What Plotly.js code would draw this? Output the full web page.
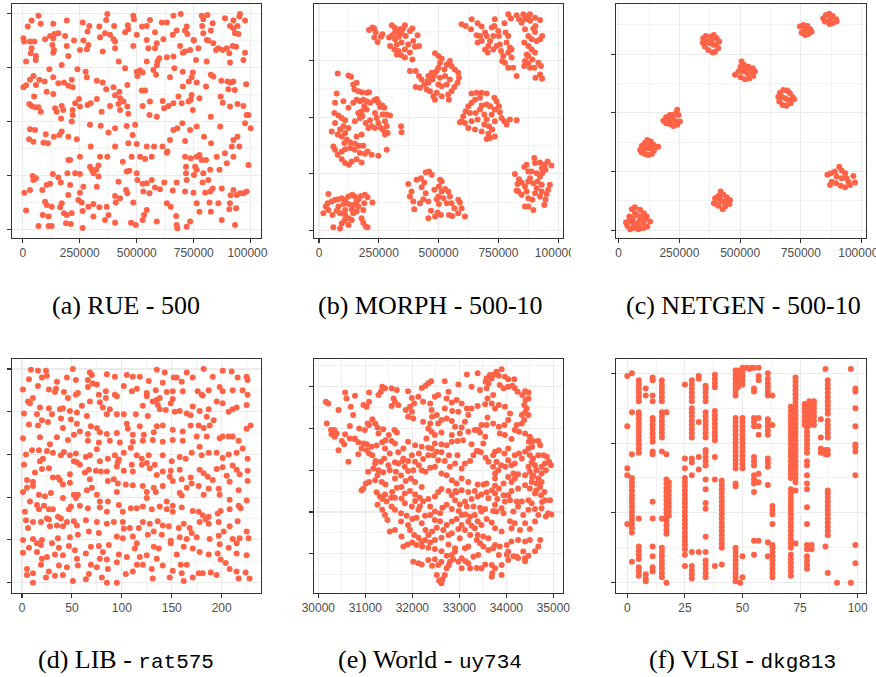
<!DOCTYPE html>
<html>
<head>
<meta charset="utf-8">
<script src="https://cdn.plot.ly/plotly-3.0.1.min.js"></script>
<style>html,body{margin:0;padding:0;background:#fff;}#chart{width:876px;height:677px;}</style>
</head>
<body>
<div id="chart"></div>
<script>
// ---------------- DATA ----------------
// (a) RUE - 500 : x, y in thousands
const rueXY = [[69,991],[39,969],[22,941],[79,954],[134,954],[193,969],[263,960],[292,944],[336,941],[371,1000],[366,972],[401,944],[461,947],[485,991],[488,975],[544,944],[523,941],[558,972],[610,960],[632,960],[661,991],[693,1000],[719,941],[785,991],[810,995],[792,975],[787,944],[833,957],[887,980],[924,969],[942,944],[953,1000],[975,969],[950,988],[909,944],
[3,887],[6,872],[32,872],[51,872],[98,882],[120,898],[139,907],[156,910],[134,887],[186,898],[225,876],[266,876],[284,918],[339,892],[361,910],[383,903],[398,882],[405,872],[449,915],[463,929],[500,903],[544,879],[580,915],[617,882],[658,903],[675,923],[712,923],[722,907],[749,879],[792,910],[825,923],[814,876],[836,864],[924,933],[931,910],[946,907],[858,841],
[39,841],[35,817],[15,779],[57,786],[58,805],[137,833],[130,856],[134,820],[193,851],[200,805],[171,763],[251,833],[288,856],[281,836],[351,825],[405,841],[421,779],[449,748],[485,851],[544,779],[551,841],[588,864],[580,841],[599,794],[591,779],[632,799],[661,802],[690,851],[702,820],[712,825],[734,833],[770,841],[760,786],[807,779],[848,833],[877,833],[906,817],[895,841],[921,851],[936,848],[975,820],[968,786],[909,774],[807,879],[751,876],
[117,743],[47,712],[73,694],[96,686],[134,706],[156,678],[181,681],[215,694],[200,666],[219,659],[240,743],[276,732],[281,706],[325,690],[351,681],[366,650],[398,659],[424,639],[459,670],[500,732],[515,737],[503,712],[526,728],[573,740],[588,762],[585,717],[646,706],[665,748],[702,732],[746,728],[741,706],[728,686],[702,663],[763,681],[825,717],[836,709],[871,690],[898,686],[924,686],[980,673],[804,663],[3,659],[15,669],[32,694],[58,670],[105,639],[134,628],[522,644],[537,644],[405,622],
[50,616],[29,582],[39,573],[54,567],[69,567],[79,546],[142,562],[149,546],[171,573],[178,554],[168,515],[219,554],[230,585],[247,605],[251,570],[284,577],[298,585],[325,605],[346,546],[383,573],[420,582],[427,608],[442,593],[427,554],[463,536],[459,570],[526,573],[558,593],[614,596],[620,562],[588,523],[556,531],[639,573],[661,585],[683,616],[697,585],[727,593],[741,624],[737,601],[746,554],[775,608],[825,523],[877,588],[909,570],[942,582],[968,573],[982,531],[868,616],[902,650],[912,681],[930,647],
[32,464],[54,461],[28,418],[47,407],[101,441],[110,399],[137,430],[161,438],[171,454],[200,430],[215,500],[219,531],[295,485],[342,481],[376,449],[405,469],[456,480],[463,399],[482,438],[493,485],[500,396],[544,384],[576,384],[613,384],[635,361],[646,415],[661,461],[678,469],[700,492],[712,410],[734,461],[763,477],[795,430],[826,399],[866,477],[924,415],[942,430],[975,492],[1000,469],[990,531],[917,384],[237,418],[91,402],
[200,322],[208,322],[251,337],[295,291],[303,276],[332,296],[339,337],[371,337],[405,384],[439,314],[456,268],[478,337],[515,337],[537,327],[566,337],[632,356],[712,337],[716,291],[737,330],[756,291],[763,337],[785,322],[804,322],[822,276],[851,337],[887,353],[895,307],[924,337],[950,384],[990,299],[863,276],[716,260],[763,276],[792,260],[775,345],[298,384],
[44,248],[47,229],[58,237],[132,257],[156,241],[167,217],[196,260],[230,260],[251,257],[266,198],[310,260],[322,276],[332,245],[420,221],[468,272],[500,260],[503,229],[526,211],[544,214],[566,229],[580,194],[621,217],[675,217],[719,229],[751,252],[789,217],[814,229],[833,190],[873,190],[924,183],[982,175],[953,167],[939,159],[7,170],[32,183],[86,183],[105,206],[120,211],[208,206],[200,159],[251,170],[325,198],[405,155],[453,183],[459,167],[529,175],[556,167],[602,186],[658,180],[712,175],[749,170],[800,170],[822,175],[912,158],[968,167],
[15,87],[98,128],[105,113],[127,105],[164,102],[171,121],[181,74],[193,67],[215,74],[244,136],[259,124],[263,85],[288,105],[310,118],[336,102],[310,59],[368,105],[376,67],[361,43],[408,124],[427,144],[485,124],[405,31],[475,31],[496,20],[526,43],[532,67],[544,90],[588,36],[632,121],[649,105],[673,62],[675,20],[678,5],[719,12],[734,36],[763,121],[775,82],[819,124],[825,82],[858,121],[873,43],[906,93],[909,121],[936,98],[931,20],[69,15],[113,15],[127,15],[190,28],[211,25],[263,6],[113,59],[88,67]];

// (b) MORPH - 500-10 : x, y in thousands
const morphXY = [[209,884],[223,894],[231,890],[237,872],[231,850],[245,831],[265,865],[259,854],[304,904],[315,894],[325,879],[306,860],[293,850],[318,843],[334,854],[345,869],[352,890],[359,904],[380,879],[390,890],[362,857],[345,828],[325,820],[297,813],[315,798],[332,791],[359,798],[373,820],[394,835],[412,860],[401,810],[418,813],[390,754],[359,762],[343,772],[325,776],[380,784],[318,872],[338,887],
[485,781],[499,769],[513,757],[506,739],[534,732],[547,747],[554,725],[568,710],[582,695],[585,673],[579,651],[566,633],[554,614],[540,600],[543,577],[513,592],[492,607],[485,577],[478,592],[464,614],[450,622],[440,644],[429,666],[418,681],[404,703],[380,703],[404,633],[422,629],[457,651],[474,666],[482,683],[506,673],[527,681],[547,666],[534,644],[513,636],[499,644],[492,703],[471,695],[457,681],[524,710],[499,717],[454,658],
[596,909],[613,901],[638,931],[663,913],[635,887],[659,860],[663,828],[680,835],[694,872],[701,857],[722,894],[735,931],[733,901],[749,879],[729,857],[715,835],[708,813],[694,798],[705,784],[729,798],[742,813],[756,820],[761,791],[770,769],[766,747],[777,739],[791,717],[812,717],[826,681],[805,762],[791,784],[784,828],[798,806],[791,857],[780,872],[775,913],[791,953],[802,934],[826,949],[854,953],[875,946],[882,953],[903,938],[924,928],[905,901],[896,890],[903,875],[933,857],[924,843],[910,835],[889,843],[875,857],[861,887],[847,916],[836,931],[858,828],[875,813],[889,798],[868,776],[861,747],[875,769],[892,754],[903,784],[917,739],[928,725],[924,688],[933,669],[905,673],[900,717],[882,717],[875,737],[858,725],[882,924],[861,931],[805,798],[752,857],[680,899],[673,857],
[123,683],[134,678],[143,644],[157,651],[148,622],[164,614],[178,610],[199,607],[209,610],[157,577],[171,570],[185,577],[199,570],[213,563],[231,574],[241,580],[248,563],[255,545],[265,551],[273,541],[283,511],[297,507],[265,511],[276,482],[283,460],[269,442],[276,423],[287,430],[259,452],[248,474],[234,452],[220,460],[213,486],[199,533],[189,548],[178,526],[164,518],[171,496],[181,504],[234,518],[241,496],[195,474],[206,452],[78,692],[74,604],[102,570],[67,563],[64,518],[81,507],[95,496],[109,486],[67,474],[53,437],[78,423],[95,415],[109,430],[102,460],[88,445],[123,452],[116,401],[106,386],[130,389],[150,383],[167,374],[185,374],[203,349],[171,342],[150,356],[130,364],[109,359],[95,349],[67,356],[60,371],[78,334],[95,315],[109,298],[125,290],[137,305],[157,315],[178,300],[192,339],[220,334],[248,330],[283,356],[343,460],[345,433],[143,563],[123,541],[150,482],[157,415],[178,423],
[638,604],[659,607],[680,607],[701,604],[673,585],[652,577],[638,563],[624,548],[613,526],[603,504],[596,482],[589,477],[610,474],[624,452],[652,445],[663,489],[655,518],[673,533],[680,551],[701,555],[715,548],[733,585],[742,570],[752,548],[735,533],[722,511],[701,489],[691,467],[710,460],[724,445],[708,427],[701,404],[715,408],[735,415],[763,496],[775,482],[784,467],[798,489],[826,486],[756,521],[638,482],[631,518],[680,437],[735,482],[691,511],
[819,250],[836,227],[830,206],[826,177],[847,212],[861,194],[875,217],[858,280],[868,290],[900,320],[903,298],[924,300],[931,275],[944,290],[956,305],[972,287],[947,268],[933,253],[924,239],[910,253],[889,261],[882,231],[896,209],[914,217],[931,202],[965,202],[958,180],[951,162],[947,136],[942,113],[924,150],[903,165],[892,136],[875,143],[861,106],[875,106],[896,91],[847,158],[833,172],[868,172],[931,172],[910,187],[875,261],
[373,206],[387,172],[380,150],[394,128],[398,94],[422,121],[408,224],[426,231],[446,256],[460,261],[471,246],[440,212],[429,191],[446,165],[436,138],[457,128],[468,88],[457,55],[485,62],[496,80],[510,69],[501,118],[492,138],[499,150],[513,172],[501,194],[513,217],[506,224],[527,183],[540,172],[547,150],[554,121],[566,99],[582,136],[589,124],[596,99],[610,62],[582,77],[534,121],[543,69],[557,65],[482,180],[520,143],
[18,77],[28,106],[36,121],[39,162],[53,128],[67,136],[81,138],[95,143],[109,136],[123,150],[139,158],[150,150],[164,138],[176,153],[192,158],[203,147],[223,124],[189,121],[164,106],[143,113],[123,118],[102,118],[81,106],[74,88],[88,77],[109,69],[123,55],[137,47],[106,44],[95,32],[88,10],[60,15],[123,25],[143,77],[157,84],[178,55],[185,35],[195,18],[203,15],[185,91],[39,91],[56,69],[109,91],[137,94],[157,128]];

// (c) NETGEN - 500-10 : x, y in thousands
const netgenXY = [[30,33],[44,58],[54,89],[67,98],[88,87],[104,72],[115,58],[129,37],[118,16],[102,9],[81,4],[60,9],[47,4],[36,18],[58,51],[74,65],[88,44],[74,30],[54,37],[102,33],[67,72],[44,44],[95,61],[81,18],[63,23],[108,47],
[88,342],[95,359],[108,373],[118,385],[132,378],[143,364],[156,356],[163,356],[145,339],[136,325],[122,321],[108,325],[95,331],[115,349],[129,349],[102,349],[122,368],
[184,467],[195,481],[211,491],[225,491],[236,498],[241,513],[246,491],[252,463],[241,449],[225,444],[209,453],[195,456],[218,470],[232,467],[204,473],
[348,818],[359,828],[379,825],[392,832],[403,818],[414,804],[410,775],[397,761],[387,757],[369,768],[355,782],[346,799],[376,797],[390,790],[365,804],[383,814],[401,790],
[479,662],[493,676],[502,697],[506,719],[516,704],[534,697],[552,690],[561,676],[554,657],[538,648],[520,643],[502,652],[513,676],[530,669],[543,676],[524,686],
[657,569],[664,586],[678,598],[694,595],[705,584],[716,567],[722,558],[708,541],[691,530],[675,534],[661,548],[685,562],[698,555],[671,569],
[746,868],[760,875],[777,870],[788,856],[794,846],[781,836],[767,832],[753,842],[767,856],
[842,903],[853,917],[867,922],[881,913],[895,899],[897,889],[881,882],[867,879],[849,889],[870,899],
[392,115],[397,136],[410,146],[420,165],[431,151],[445,141],[458,129],[456,112],[438,101],[428,89],[410,104],[401,112],[424,122],[442,122],[417,132],
[859,236],[873,243],[890,250],[908,271],[918,254],[932,243],[938,222],[945,207],[966,231],[973,203],[952,193],[932,183],[914,189],[895,200],[877,207],[870,193],[897,229],[918,222]];

// (d) LIB - rat575
const ratXY = [[9,249],[16,248],[24,248],[20,240],[7,238],[51,250],[45,240],[54,237],[68,246],[70,243],[75,232],[85,244],[93,241],[105,243],[111,241],[118,241],[127,236],[135,249],[143,246],[152,240],[155,240],[165,246],[171,240],[182,250],[191,241],[201,248],[210,247],[216,240],[225,241],[226,237],[66,237],[35,235],[25,242],
[1,226],[16,230],[27,226],[34,227],[33,223],[42,223],[46,216],[54,220],[56,222],[66,229],[71,233],[77,220],[84,224],[93,220],[95,218],[102,230],[110,224],[115,227],[125,222],[125,218],[134,225],[141,234],[145,223],[151,224],[160,235],[161,224],[176,224],[180,220],[187,225],[198,229],[201,224],[211,225],[221,225],[226,220],[181,219],[11,216],[6,212],[84,216],[131,212],[138,216],[151,215],
[2,198],[8,210],[18,205],[27,204],[30,197],[38,203],[41,204],[48,201],[55,199],[60,207],[68,212],[78,211],[81,205],[88,203],[95,197],[102,197],[114,197],[121,207],[126,195],[135,214],[136,208],[138,203],[144,202],[149,210],[153,200],[158,201],[165,198],[169,196],[171,206],[178,201],[185,194],[187,203],[195,212],[201,210],[207,200],[211,203],[215,205],[225,208],[65,195],[85,197],[15,197],
[7,185],[16,184],[20,190],[26,188],[39,192],[41,181],[49,191],[55,186],[58,177],[66,174],[69,183],[75,181],[78,176],[85,174],[95,175],[105,186],[106,180],[111,173],[118,183],[122,173],[132,176],[135,183],[141,184],[151,179],[161,177],[169,184],[177,184],[182,181],[188,184],[192,190],[198,169],[201,171],[207,171],[211,171],[217,166],[225,180],[229,184],[1,169],[18,170],[28,162],[35,170],[46,167],[52,173],[66,166],[77,164],[88,166],[98,164],[111,165],[121,166],[131,167],[141,165],[151,167],[161,166],[175,171],[185,171],
[4,150],[2,138],[10,155],[17,155],[25,154],[31,152],[39,149],[42,153],[48,149],[54,151],[68,149],[75,156],[86,145],[93,149],[102,152],[109,158],[115,149],[120,145],[127,149],[133,138],[141,149],[150,142],[158,147],[164,145],[170,152],[178,159],[180,149],[187,152],[195,152],[201,146],[207,150],[215,152],[221,157],[226,145],[18,142],[21,145],[52,142],[64,147],[78,142],[97,144],[110,138],[125,140],
[13,129],[20,133],[27,134],[31,123],[36,123],[48,127],[55,141],[58,138],[63,129],[68,121],[74,131],[79,130],[85,130],[96,141],[95,136],[102,131],[111,130],[120,138],[128,134],[135,126],[141,130],[149,131],[148,124],[158,132],[160,121],[169,123],[178,132],[182,128],[186,124],[195,133],[201,135],[205,125],[211,137],[215,132],[218,127],[226,131],[5,120],[11,118],[38,120],[67,132],
[1,106],[5,111],[11,113],[17,103],[23,101],[29,105],[41,115],[48,117],[52,103],[56,103],[65,108],[70,111],[75,103],[86,119],[92,121],[96,116],[95,106],[104,115],[111,114],[121,113],[125,106],[132,111],[134,106],[141,113],[151,119],[158,105],[165,111],[170,116],[177,113],[182,103],[187,110],[191,120],[197,110],[208,118],[217,108],[226,119],[8,95],[41,99],[54,99],[78,95],[86,95],[125,99],[145,95],[160,102],[198,103],[208,97],[225,96],
[3,83],[15,91],[17,86],[22,90],[27,86],[31,86],[36,77],[39,75],[49,89],[58,90],[66,87],[78,88],[85,83],[97,91],[101,83],[109,87],[115,87],[121,89],[130,86],[138,89],[145,86],[151,90],[151,83],[160,88],[171,84],[177,83],[181,79],[187,77],[196,81],[199,84],[208,86],[217,90],[219,87],[25,75],[47,86],
[4,73],[6,64],[11,71],[19,71],[27,74],[28,66],[35,67],[41,66],[45,71],[52,72],[55,67],[64,73],[75,71],[85,69],[92,71],[101,71],[102,63],[108,64],[117,64],[121,71],[128,69],[136,72],[141,67],[147,66],[157,64],[162,69],[168,64],[178,71],[184,74],[187,69],[197,71],[202,60],[208,66],[216,72],[225,60],[227,52],[1,50],[11,51],[15,46],[20,50],[36,52],[48,53],[56,56],[67,60],[77,58],[95,54],[101,52],[111,54],[126,56],[132,60],[140,56],[149,49],[158,53],[165,51],[170,58],[175,53],[188,51],[197,55],[211,51],[218,52],
[1,35],[7,41],[15,36],[19,44],[25,30],[30,46],[33,33],[37,41],[41,32],[47,43],[53,38],[64,34],[69,42],[77,43],[81,36],[87,44],[97,33],[105,30],[113,40],[115,46],[125,32],[132,42],[137,40],[149,46],[155,33],[162,42],[171,40],[178,36],[187,33],[196,34],[198,45],[207,41],[215,46],[215,34],[225,32],[20,28],[55,28],[85,27],[118,30],[135,28],
[5,16],[5,9],[11,0],[11,11],[19,21],[27,13],[33,8],[37,20],[41,9],[45,18],[51,2],[56,20],[64,4],[67,10],[69,21],[75,18],[80,6],[85,0],[86,16],[95,24],[95,0],[104,10],[111,13],[115,21],[121,21],[130,16],[141,20],[148,6],[151,14],[159,21],[160,11],[165,21],[171,6],[177,11],[181,11],[189,12],[195,9],[199,27],[204,23],[208,16],[215,13],[217,5],[224,12],[228,5],[131,5],[162,2],[78,28],[24,6]];

// (e) World - uy734 : x, y in thousands
const uyXY = [[33.90,58.42],[33.79,58.36],[33.74,58.29],[33.65,58.28],[33.58,58.20],[33.56,58.12],[33.69,58.20],[33.84,58.26],[33.97,58.24],[34.04,58.18],[34.17,58.18],[33.39,58.32],[33.16,58.29],[32.69,58.13],[32.40,58.13],[32.34,58.08],[32.28,58.02],[32.20,57.97],[32.98,58.05],[33.26,58.00],[33.44,57.92],[33.58,57.96],[33.62,58.08],[33.86,58.04],[33.94,57.96],[34.04,58.00],[34.13,58.02],[34.18,57.96],[34.24,57.88],[34.40,57.89],[34.47,57.86],[34.34,57.80],[34.41,57.68],[34.47,57.72],[34.38,57.56],[34.43,57.48],[34.40,57.38],[34.33,57.32],[34.47,57.32],[34.38,57.20],[34.33,57.12],[34.22,57.08],[34.18,56.96],[34.27,56.92],[34.40,56.88],[34.50,56.80],[34.48,56.68],[34.57,56.70],[34.68,56.70],[34.72,56.60],[34.55,56.56],[34.47,56.52],[34.40,56.44],[34.50,56.36],[34.57,56.28],[34.68,56.36],[34.79,56.36],[34.86,56.32],[34.91,56.20],[34.95,56.12],[34.82,56.16],[34.75,56.08],[34.84,56.00],[34.75,55.92],[34.64,56.00],[34.61,56.12],[34.54,56.19],[34.47,56.08],[34.50,55.96],[34.57,55.88],[34.68,55.80],[34.75,55.72],[34.72,55.60],[34.64,55.52],[34.74,55.40],[34.82,55.28],[34.93,55.28],[34.76,55.24],[34.89,54.97],[34.96,54.94],[34.84,54.89],[34.68,54.93],[34.61,54.77],[34.68,54.17],[34.50,54.33],[34.36,54.05],[34.40,53.89],[34.22,53.93],[34.15,53.94],[34.04,54.05],[34.01,53.98],[33.90,53.73],[33.84,53.97],[33.76,54.21],[33.62,54.37],[33.51,54.41],[33.39,54.45],[33.33,54.61],[33.26,54.67],[33.19,54.77],[33.05,54.93],[32.94,54.83],[32.84,54.77],[32.98,54.59],[32.84,54.49],[33.01,54.37],[33.19,54.17],[33.12,54.13],[32.91,54.05],[32.84,53.97],[32.73,53.95],[32.62,54.06],[32.48,54.11],[32.34,54.14],[32.21,54.17],[32.09,54.21],[32.00,54.27],[31.90,54.22],[31.81,54.17],[31.77,54.41],[31.63,54.57],[31.52,54.53],[31.47,54.81],[31.42,54.93],[31.36,55.05],[31.26,55.17],[31.31,55.37],[31.42,55.42],[31.57,55.48],[31.67,55.58],[31.77,55.60],[31.95,55.50],[32.06,55.42],[32.16,55.34],[32.23,55.25],[32.38,55.13],[32.48,55.01],[32.59,54.97],[32.64,55.10],[32.73,55.17],[32.84,55.07],[32.99,55.02],[33.16,55.13],[33.30,55.13],[33.44,55.10],[33.55,55.07],[33.72,55.02],[33.79,55.01],[33.94,54.97],[34.08,54.78],[34.18,54.73],[34.36,54.93],[34.25,55.13],[34.22,55.25],[34.33,55.25],[34.47,55.28],[34.54,55.21],[34.08,55.28],[33.97,55.25],[33.81,55.31],[33.62,55.33],[33.47,55.42],[33.39,55.37],[33.26,55.31],[33.12,55.25],[33.01,55.18],[32.91,55.28],[32.84,55.40],[32.92,55.50],[32.77,55.50],[32.62,55.55],[32.55,55.48],[32.48,55.37],[32.34,55.31],[32.20,55.60],[32.06,55.72],[31.97,55.80],[31.86,55.74],[31.76,55.87],[31.65,55.96],[31.52,56.00],[31.38,55.95],[31.28,56.00],[31.17,56.04],[31.06,55.96],[31.01,55.68],[30.96,55.56],[30.92,55.52],[31.08,55.72],[31.21,55.76],[31.35,55.72],[31.43,55.66],[31.26,55.88],[31.63,55.80],[31.49,56.12],[31.70,56.16],[31.79,56.22],[31.84,56.08],[31.91,55.98],[32.02,56.00],[32.14,56.12],[32.20,56.00],[32.28,55.96],[32.38,56.06],[32.48,56.08],[32.62,55.92],[32.73,55.88],[32.84,55.76],[32.94,55.68],[33.05,55.80],[33.19,55.72],[33.39,55.66],[33.51,55.66],[33.58,55.68],[33.76,55.63],[33.84,55.56],[33.94,55.68],[34.04,55.84],[34.15,55.92],[34.25,55.90],[34.40,55.88],[33.83,56.00],[33.72,56.08],[33.62,56.20],[33.56,56.30],[33.46,56.43],[33.37,56.46],[33.30,56.36],[33.23,56.22],[33.12,56.16],[33.05,56.04],[32.91,56.16],[32.80,56.08],[32.69,56.22],[32.55,56.24],[32.45,56.36],[32.34,56.36],[32.23,56.27],[32.06,56.20],[31.91,56.22],[31.81,56.28],[31.63,56.19],[31.22,56.22],[31.15,56.36],[31.08,56.40],[31.03,56.48],[30.92,56.52],[30.85,56.38],[30.64,56.20],[30.43,56.48],[30.55,56.62],[30.67,56.76],[30.77,56.75],[30.85,56.67],[30.96,56.64],[31.03,56.62],[31.13,56.56],[31.24,56.59],[31.36,56.67],[31.42,56.52],[31.56,56.70],[31.63,56.64],[31.67,56.90],[31.62,56.96],[31.50,56.84],[31.38,56.98],[31.26,57.02],[31.21,57.12],[31.15,57.22],[31.08,57.08],[30.99,56.96],[30.87,57.00],[30.78,56.76],[30.67,57.06],[30.57,56.86],[30.39,56.88],[30.34,56.96],[30.27,56.96],[30.18,57.12],[30.28,56.86],[30.35,56.80],[30.50,56.70],[31.05,57.12],[31.28,56.88],[31.43,56.72],[30.16,57.64],[30.21,57.60],[30.43,57.44],[30.60,57.72],[30.57,57.86],[30.78,57.78],[30.69,57.52],[30.74,57.32],[30.96,57.56],[31.03,57.52],[31.08,57.64],[31.08,57.86],[31.28,57.80],[31.33,57.88],[31.36,58.00],[31.42,57.96],[31.56,57.96],[31.67,57.92],[31.60,57.72],[31.63,57.64],[31.56,57.54],[31.70,57.56],[31.91,57.89],[31.99,57.73],[31.95,57.52],[31.86,57.44],[31.91,57.28],[32.02,57.24],[31.99,57.40],[32.04,57.60],[32.13,57.76],[32.23,57.64],[32.38,57.60],[32.48,57.76],[32.41,57.44],[32.52,57.32],[32.42,57.28],[32.38,57.12],[32.23,57.16],[32.34,57.00],[32.41,56.92],[32.48,56.84],[32.30,56.76],[32.20,56.56],[32.34,56.54],[32.48,56.64],[32.62,56.62],[32.73,56.60],[32.84,56.68],[32.96,56.70],[33.08,56.72],[33.26,56.62],[33.40,56.46],[33.51,56.64],[33.55,56.80],[33.44,56.90],[33.33,56.96],[33.19,56.92],[33.05,57.02],[32.91,57.04],[32.84,57.18],[32.73,57.24],[32.62,57.20],[32.55,57.12],[32.62,56.90],[32.84,56.84],[33.01,56.88],[33.12,57.16],[33.19,57.32],[33.16,57.48],[33.05,57.60],[32.94,57.68],[32.84,57.62],[32.73,57.72],[32.77,57.88],[32.55,57.80],[32.69,57.48],[32.85,57.42],[32.98,57.40],[33.26,57.48],[33.39,57.54],[33.55,57.58],[33.60,57.72],[33.72,57.80],[33.69,57.60],[33.76,57.48],[33.84,57.56],[33.97,57.52],[34.08,57.36],[34.04,57.20],[33.96,57.08],[33.84,57.04],[33.72,57.12],[33.60,57.26],[33.58,57.08],[33.47,57.08],[33.40,56.96],[33.86,56.88],[33.97,56.84],[34.11,56.75],[34.04,56.52],[33.96,56.40],[33.84,56.48],[33.76,56.44],[33.72,56.36],[34.04,56.24],[34.18,56.36],[34.27,56.40],[34.33,56.28],[34.18,56.16],[34.11,56.12],[33.98,56.08],[33.89,56.12],[33.79,56.20],[32.96,56.36],[32.78,56.36],[32.62,56.43],[32.52,56.44],[32.41,56.52],[32.06,56.60],[31.91,56.68],[31.81,56.52],[31.70,56.43],[31.99,56.36],[32.14,56.40],[31.40,56.28],[31.33,56.20],[31.52,56.40],[31.21,56.16],[31.24,55.47],[31.36,55.31],[31.45,55.25],[31.56,55.13],[31.63,55.05],[31.76,54.97],[31.88,54.91],[32.00,54.83],[32.09,54.86],[32.20,54.73],[32.28,54.57],[32.34,54.45],[32.42,54.53],[32.52,54.62],[32.66,54.57],[32.73,54.69],[32.59,54.78],[32.48,54.81],[32.38,54.93],[32.27,54.91],[32.13,55.05],[31.99,55.13],[31.84,55.21],[31.77,55.32],[31.63,55.34],[31.55,55.34],[31.84,55.44],[32.06,55.26],[32.16,55.13],[31.76,54.77],[31.91,54.69],[31.95,54.57],[32.04,54.45],[32.13,54.38],[32.20,54.29],[32.27,54.33],[32.38,54.27],[32.48,54.33],[32.62,54.38],[32.77,54.45],[33.05,54.69],[33.12,54.57],[33.23,54.45],[33.37,54.33],[33.44,54.25],[33.51,54.17],[33.62,54.09],[33.72,54.13],[33.86,54.17],[34.01,54.21],[34.11,54.29],[34.25,54.33],[34.40,54.29],[34.50,54.59],[34.40,54.73],[34.29,54.57],[34.11,54.61],[33.90,54.53],[33.76,54.61],[33.69,54.75],[33.58,54.83],[33.47,54.69],[33.39,54.78],[33.33,54.93],[33.23,54.89],[33.13,54.94],[33.47,55.01],[33.76,55.17],[33.90,55.09],[34.15,55.01],[34.47,55.05],[34.61,55.07],[34.75,55.09],[34.81,55.48],[34.61,55.44],[34.50,55.56],[34.40,55.64],[34.25,55.56],[34.11,55.50],[34.04,55.40],[33.94,55.40],[33.76,55.44],[33.69,55.52],[33.58,55.47],[33.33,55.50],[33.19,55.48],[33.05,55.52],[32.94,55.48],[34.11,55.72],[34.18,55.80],[34.54,55.72],[34.64,55.68],[34.55,55.84],[33.76,55.80],[33.76,55.92],[32.62,53.81],[32.55,53.73],[32.69,53.49],[32.64,53.39],[32.62,53.29],[32.57,53.35],[32.52,53.49],[32.73,53.65],[32.78,53.73],[32.87,53.87],[32.98,53.81],[33.05,53.89],[33.13,53.82],[33.30,53.93],[33.40,53.97],[33.47,53.65],[33.37,53.66],[33.23,53.65],[33.19,53.77],[33.05,53.65],[32.80,53.81],[32.48,53.87],[32.42,53.71],[32.91,54.13],[32.77,54.22],[32.13,53.77],[32.20,53.74],[32.02,53.81],[32.34,53.85],[33.55,53.74],[33.69,53.73],[33.69,53.45],[33.70,53.53],[33.90,53.49],[33.76,53.65],[34.04,53.85],[34.25,53.90],[34.40,53.82],[34.47,53.95],[34.61,54.06],[34.72,54.33]];

// (f) VLSI - dkg813 : points grouped by their x column
const dkgColumns = [0,2,5,8,11,15,17,18,25,28,31,34,38,41,47,48,49,50,52,53,54,55,57,61,63,71,73,77,78,79,80,81,84,86,87,91,97,99];
const dkgYs = [
 [148,112,82,77,42],
 [150,122,92,15,36,39,42,45,48,51,54,57,60,63,66,69,72,75],
 [130,133,136,139,142,145,93,96,99,102,105,108,111,114,117,120,122,46,17,20,23,26,5,8,11],
 [139,134,1,3,6],
 [147,145,134,130,101,104,107,110,113,116,118,94,92,58,46,26,19,11,8],
 [130,133,136,139,142,145,104,107,110,113,116,119,122,94,46,4,7,10,13,16,19,22,25],
 [122,92,35,38,41,44,47,50,53,56,59,62,65,68,71,74,0],
 [48,51,54,57,60,63,66,69,72],
 [142,89,82,24,27,30,33,36,39,42,45,48,51,54,57,60,63,66,69,72,75,20,12],
 [130,133,136,139,142,145,104,107,110,113,116,119,122,125,86,89,77,22,3,6,9,12],
 [115,90,81,22,148,146],
 [130,133,136,139,141,104,107,110,113,116,119,122,84,87,90,93,95,74,67,57,53,33,22,4,7,10,13,16],
 [140,143,146,149,102,105,108,111,114,117,120,123,90,74,12],
 [25,28,31,34,37,40,43,46,49,52,55,58,61,64,67,70,73,13],
 [134,137,140,143,146,149,152,82,85,88,91,94,97,100,103,106,109,112,115,118,71,69,1,4,7,10,13,16,19,22,25],
 [140,143,146,149,152],
 [0],
 [142,145,148,151,154,82,85,88,91,94,97,100,103,106,109,112,115,118,19,4],
 [154],
 [153],
 [154],
 [139,137,112,115,118,84,87,90,71,74,77,65,30,20,154],
 [148,145,118,112,106,78,72,30,154],
 [150,134,137,140,143,146,106,109,112,115,117,83,86,89,70,29,19],
 [134,113,49,52,55,42,4,7,10,13,16,19,22,25,27],
 [75,78,81,84,87,90,93,96,99,102,105,108,111,114,117,120,123,126,25,28,31,34,37,40,43,46,49,52,55,58,61,64,67,5,8,11,14,17,20],
 [72,75,78,81,84,87,90,93,96,99,102,105,108,111,114,117,120,123,126,129,132,135,138,141,144,147,66,28],
 [113,116,119,122,125,128],
 [111,108,105,102,99,96,93,87,84,77,71,67,54,42,24,27,10,13,16,19],
 [113,116,119,122,125,128,130],
 [27,24],
 [113,116,119,122,125,128,130],
 [117,104,93,96],
 [153,26,92,95],
 [121,124,127,130,133,136,139,142,145,104,107,110,113,116,92,95,34,37,40,43,46,49,52,55,58,61,64,66,7],
 [0],
 [153,0],
 [139,137,125,112,94,97,99,77,27,14]
];

// tick labels
const tickA = [0,250,500,750,1000];
const tickTextA = ['0','250000','500000','750000','1000000'];
const tickD = [0,50,100,150,200];
const tickTextD = ['0','50','100','150','200'];
const tickE = [30,31,32,33,34,35];
const tickTextE = ['30000','31000','32000','33000','34000','35000'];
const tickF = [0,25,50,75,100];
const tickTextF = ['0','25','50','75','100'];

const captions = [
 '(a) RUE - 500',
 '(b) MORPH - 500-10',
 '(c) NETGEN - 500-10',
 '(d) LIB - <span style="font-family:Liberation Mono;font-size:21px">rat575</span>',
 '(e) World - <span style="font-family:Liberation Mono;font-size:21px">uy734</span>',
 '(f) VLSI - <span style="font-family:Liberation Mono;font-size:21px">dkg813</span>'
];

// ---------------- BUILD ----------------
const W = 876, H = 677;
const COLOR = '#FF6347';
const px = p => p / W;
const py = p => 1 - p / H;

const dkgXY = [];
dkgColumns.forEach((c, i) => dkgYs[i].forEach(v => dkgXY.push([c, v])));

function mids(arr){ const m=[]; const s=arr[1]-arr[0]; m.push(arr[0]-s/2); arr.forEach(v=>m.push(v+s/2)); return m; }

const panels = [
 {xy: rueXY,    xd:[12,261],  yd:[4,237.5],   xr:[-47,1045], yr:[-38,1046], xt:tickA, xtt:tickTextA, yt:[0,250,500,750,1000]},
 {xy: morphXY,  xd:[314,563], yd:[4,237.5],   xr:[-21,1020], yr:[-30,998],  xt:tickA, xtt:tickTextA, yt:[0,250,500,750]},
 {xy: netgenXY, xd:[616,866], yd:[4,237.5],   xr:[-11,1018], yr:[-31,964],  xt:tickA, xtt:tickTextA, yt:[0,250,500,750]},
 {xy: ratXY,    xd:[12,261],  yd:[359,592.5], xr:[-10,239.4], yr:[-11.5,261.7], xt:tickD, xtt:tickTextD, yt:[0,50,100,150,200,250]},
 {xy: uyXY,     xd:[314,563], yd:[359,592.5], xr:[29.908,35.206], yr:[53.071,58.663], xt:tickE, xtt:tickTextE, yt:[54,55,56,57,58]},
 {xy: dkgXY,    xd:[616,866], yd:[359,592.5], xr:[-4.9,103.6], yr:[-7,160.2], xt:tickF, xtt:tickTextF, yt:[0,50,100,150]}
];

const layout = {
  width: W, height: H,
  margin: {l:0, r:0, t:0, b:0},
  paper_bgcolor: '#ffffff', plot_bgcolor: '#ffffff',
  showlegend: false,
  annotations: [], shapes: []
};
const data = [];

function baseAxis(){
  return {
    showline: true, mirror: true, linecolor: '#333333', linewidth: 1.1,
    zeroline: false, showgrid: true, gridcolor: '#EBEBEB', gridwidth: 1.1,
    ticks: 'outside', ticklen: 4, tickwidth: 1.1, tickcolor: '#333333',
    ticklabeloverflow: 'allow',
    tickfont: {family: 'Liberation Sans, Arial, sans-serif', size: 12, color: '#4D4D4D'},
    fixedrange: true
  };
}

panels.forEach((p, i) => {
  const n = i + 1;
  const xa = Object.assign(baseAxis(), {
    domain: [px(p.xd[0]), px(p.xd[1])], range: p.xr, anchor: 'y' + n,
    tickmode: 'array', tickvals: p.xt, ticktext: p.xtt,
    minor: {tickmode: 'array', tickvals: mids(p.xt), showgrid: true, gridcolor: '#EBEBEB', gridwidth: 0.6, ticklen: 0}
  });
  const ya = Object.assign(baseAxis(), {
    domain: [py(p.yd[1]), py(p.yd[0])], range: p.yr, anchor: 'x' + n,
    tickmode: 'array', tickvals: p.yt, showticklabels: false,
    minor: {tickmode: 'array', tickvals: mids(p.yt), showgrid: true, gridcolor: '#EBEBEB', gridwidth: 0.6, ticklen: 0}
  });
  layout['xaxis' + (n === 1 ? '' : n)] = xa;
  layout['yaxis' + (n === 1 ? '' : n)] = ya;
  data.push({
    type: 'scatter', mode: 'markers',
    x: p.xy.map(d => d[0]), y: p.xy.map(d => d[1]),
    xaxis: 'x' + (n === 1 ? '' : n), yaxis: 'y' + (n === 1 ? '' : n),
    marker: {size: 6, color: COLOR, line: {width: 0}},
    hoverinfo: 'skip', cliponaxis: false
  });
});

// captions
const capX = [126, 430, 743.5, 125.5, 430, 742.5];
const capY = [305.5, 305.5, 305.5, 659.5, 659.5, 659.5];
captions.forEach((t, i) => {
  layout.annotations.push({
    xref: 'paper', yref: 'paper', x: px(capX[i]), y: py(capY[i]),
    xanchor: 'center', yanchor: 'middle', showarrow: false, text: t,
    font: {family: 'Liberation Serif, Times New Roman, serif', size: 26, color: '#000000'}
  });
});

// clip the long "1000000" tick labels at the edge of their sub-figure, as in the source
[[268, 300], [571, 602]].forEach(r => {
  layout.shapes.push({
    type: 'rect', xref: 'paper', yref: 'paper', layer: 'above',
    x0: px(r[0]), x1: px(r[1]), y0: py(262), y1: py(239.5),
    fillcolor: '#ffffff', line: {width: 0}
  });
});

Plotly.newPlot('chart', data, layout, {staticPlot: true, displayModeBar: false});
</script>
</body>
</html>
